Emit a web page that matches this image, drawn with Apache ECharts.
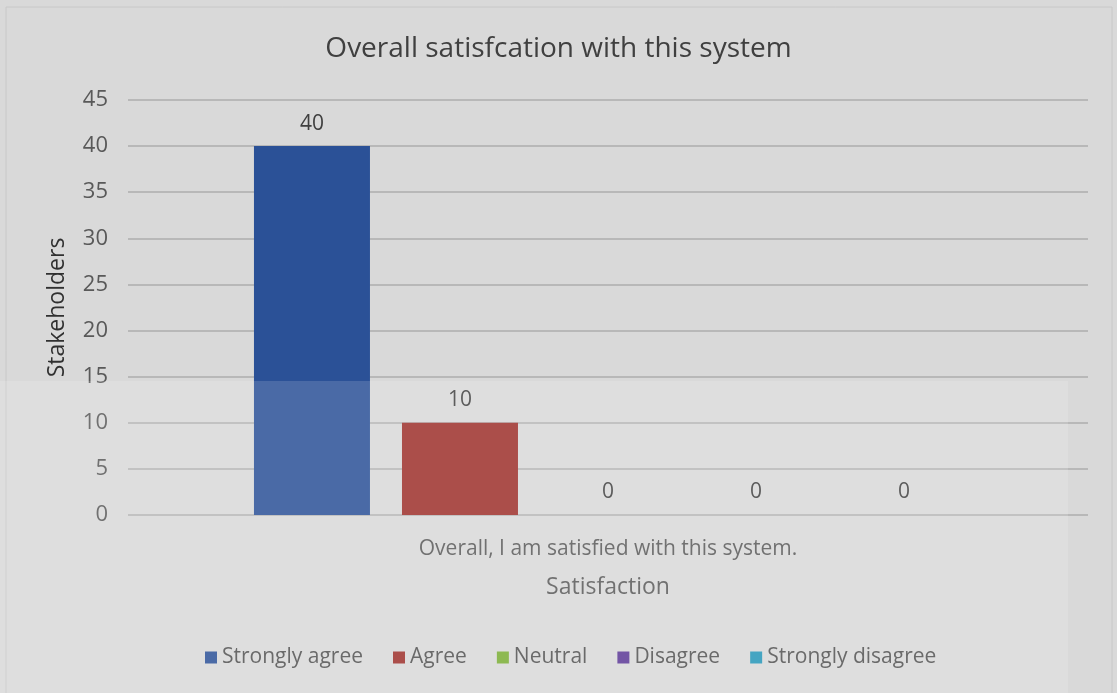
<!DOCTYPE html>
<html><head><meta charset="utf-8">
<script src="https://cdn.jsdelivr.net/npm/echarts@6/dist/echarts.min.js"></script>
<style>html,body{margin:0;padding:0;background:#e6e6e6;}#c{width:1117px;height:693px;}</style>
</head><body><div id="c"></div>
<script>
const categories = ['Overall, I am satisfied with this system.'];
const seriesNames = ['Strongly agree', 'Agree', 'Neutral', 'Disagree', 'Strongly disagree'];
const stronglyAgree = [40];
const agree = [10];
const neutral = [0];
const disagree = [0];
const stronglyDisagree = [0];
const yTicks = [0, 5, 10, 15, 20, 25, 30, 35, 40, 45];

const values = [stronglyAgree, agree, neutral, disagree, stronglyDisagree];
const colors = ['#2b5197', '#9d2f2b', '#7aad34', '#5b3896', '#2596b8'];
const font = '"Open Sans", "Noto Sans", sans-serif';

const chart = echarts.init(document.getElementById('c'));
chart.setOption({
  backgroundColor: '#d9d9d9',
  animation: false,
  textStyle: { fontFamily: font },
  title: {
    text: 'Overall satisfcation with this system',
    left: 'center', top: 30,
    textStyle: { fontFamily: font, fontSize: 28, fontWeight: 'normal', color: '#404040' }
  },
  legend: {
    bottom: 20, left: 200,
    itemWidth: 12, itemHeight: 12, itemGap: 30,
    icon: 'rect',
    textStyle: { fontFamily: font, fontSize: 21, color: '#505050' },
    data: seriesNames
  },
  grid: { left: 128, right: 29, top: 100, bottom: 178 },
  xAxis: {
    type: 'category', data: categories,
    name: 'Satisfaction', nameLocation: 'middle', nameGap: 61,
    nameTextStyle: { fontFamily: font, fontSize: 23, color: '#595959' },
    axisLine: { show: false }, axisTick: { show: false },
    axisLabel: { margin: 24, fontFamily: font, fontSize: 21, color: '#595959' }
  },
  yAxis: {
    type: 'value', min: 0, max: 45, interval: 5,
    name: 'Stakeholders', nameLocation: 'middle', nameGap: 59,
    nameTextStyle: { fontFamily: font, fontSize: 23, color: '#303030' },
    axisLine: { show: false }, axisTick: { show: false },
    axisLabel: { margin: 20, fontFamily: font, fontSize: 22, color: '#595959',
      formatter: v => yTicks.includes(v) ? String(v) : '' },
    splitLine: { lineStyle: { color: '#b8b8b8', width: 2 } }
  },
  series: seriesNames.map((n, i) => ({
    name: n, type: 'bar', data: values[i],
    barWidth: 116, barGap: '27.6%',
    itemStyle: { color: colors[i] },
    label: { show: true, position: 'top', distance: 12, fontFamily: font, fontSize: 21, color: '#404040' }
  })),
  graphic: [
    { type: 'rect', shape: { x: 6, y: 7, width: 1106, height: 700 }, style: { fill: 'none', stroke: '#c8c8c8', lineWidth: 1 }, z: 100 },
    { type: 'rect', shape: { x: 0, y: 381, width: 1068, height: 312 }, style: { fill: 'rgba(255,255,255,0.15)' }, z: 100, silent: true }
  ]
});
</script></body></html>
